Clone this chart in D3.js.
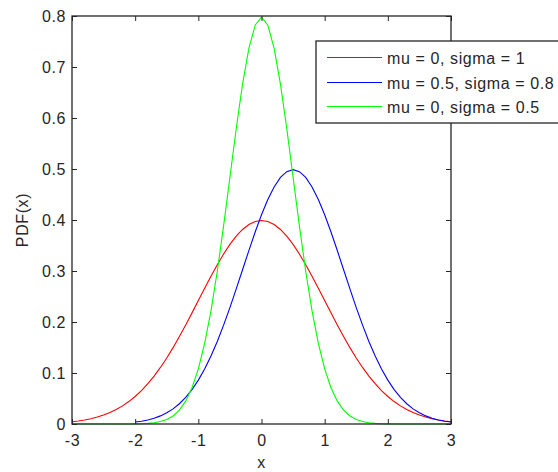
<!DOCTYPE html>
<html>
<head>
<meta charset="utf-8">
<script src="https://cdn.jsdelivr.net/npm/d3@7"></script>
<style>
body { margin: 0; background: #fff; }
svg text { font-family: "Liberation Sans", Arial, sans-serif; letter-spacing: 0.6px; }
</style>
</head>
<body>
<svg id="chart" width="558" height="472"></svg>
<script>
// values
var xTicks = [-3, -2, -1, 0, 1, 2, 3];
var yTicks = [0, 0.1, 0.2, 0.3, 0.4, 0.5, 0.6, 0.7, 0.8];
var seriesNames = ['mu = 0, sigma = 1', 'mu = 0.5, sigma = 0.8', 'mu = 0, sigma = 0.5'];
var seriesColors = ['#ff0000', '#0000ff', '#00ff00'];

// x = -3 .. 3 step 0.1
var redX = d3.range(-30, 31).map(d => d / 10);
var redY = [0.0044, 0.0060, 0.0079, 0.0104, 0.0136, 0.0175, 0.0224, 0.0283, 0.0355, 0.0440,
	0.0540, 0.0656, 0.0790, 0.0940, 0.1109, 0.1295, 0.1497, 0.1714, 0.1942, 0.2179,
	0.2420, 0.2661, 0.2897, 0.3123, 0.3332, 0.3521, 0.3683, 0.3814, 0.3910, 0.3970,
	0.3989,
	0.3970, 0.3910, 0.3814, 0.3683, 0.3521, 0.3332, 0.3123, 0.2897, 0.2661, 0.2420,
	0.2179, 0.1942, 0.1714, 0.1497, 0.1295, 0.1109, 0.0940, 0.0790, 0.0656, 0.0540,
	0.0440, 0.0355, 0.0283, 0.0224, 0.0175, 0.0136, 0.0104, 0.0079, 0.0060, 0.0044];

// x = -2 .. 3 step 0.1
var blueX = d3.range(-20, 31).map(d => d / 10);
var blueY = [0.0038, 0.0055, 0.0080, 0.0114, 0.0159, 0.0219, 0.0297, 0.0397, 0.0522, 0.0675,
	0.0860, 0.1079, 0.1332, 0.1619, 0.1938, 0.2283, 0.2649, 0.3025, 0.3401, 0.3764,
	0.4102, 0.4401, 0.4648, 0.4834, 0.4948,
	0.4987,
	0.4948, 0.4834, 0.4648, 0.4401, 0.4102, 0.3764, 0.3401, 0.3025, 0.2649, 0.2283,
	0.1938, 0.1619, 0.1332, 0.1079, 0.0860, 0.0675, 0.0522, 0.0397, 0.0297, 0.0219,
	0.0159, 0.0114, 0.0080, 0.0055, 0.0038];

// x = -3 .. 3 step 0.1
var greenX = d3.range(-30, 31).map(d => d / 10);
var greenY = [0, 0, 0, 0, 0, 0, 0, 0, 0, 0,
	0.0003, 0.0006, 0.0012, 0.0025, 0.0048, 0.0089, 0.0158, 0.0272, 0.0448, 0.0710,
	0.1080, 0.1579, 0.2218, 0.2995, 0.3884, 0.4839, 0.5794, 0.6664, 0.7366, 0.7821,
	0.7979,
	0.7821, 0.7366, 0.6664, 0.5794, 0.4839, 0.3884, 0.2995, 0.2218, 0.1579, 0.1080,
	0.0710, 0.0448, 0.0272, 0.0158, 0.0089, 0.0048, 0.0025, 0.0012, 0.0006, 0.0003,
	0, 0, 0, 0, 0, 0, 0, 0, 0, 0];

var svg = d3.select('#chart');
var padL = 72, padR = 451, padT = 16, padB = 424;
var axisColor = '#262626', textColor = '#262626', fontSize = 16;

var sx = d3.scaleLinear().domain([-3, 3]).range([padL, padR]);
var sy = d3.scaleLinear().domain([0, 0.8]).range([padB, padT]);

var line = d3.line()
	.x(d => sx(d[0]))
	.y(d => sy(d[1]));

var series = [
	d3.zip(redX, redY),
	d3.zip(blueX, blueY),
	d3.zip(greenX, greenY)
];

series.forEach(function(s, i) {
	svg.append('path').datum(s)
		.attr('d', line)
		.attr('fill', 'none')
		.attr('stroke', seriesColors[i])
		.attr('stroke-width', 1.1);
});

// axes, ticks pointing inward, mirrored on top and right
function styleAxis(g) {
	g.select('.domain').remove();
	g.selectAll('.tick line').attr('stroke', axisColor);
	g.selectAll('.tick text').attr('fill', textColor).attr('font-size', fontSize)
		.attr('font-family', '"Liberation Sans", Arial, sans-serif');
}

svg.append('g').attr('transform', 'translate(0,' + padB + ')')
	.call(d3.axisBottom(sx).tickValues(xTicks).tickSizeInner(-5).tickSizeOuter(0).tickPadding(11).tickFormat(d => String(d)))
	.call(styleAxis);
svg.append('g').attr('transform', 'translate(0,' + padT + ')')
	.call(d3.axisTop(sx).tickValues(xTicks).tickSizeInner(-5).tickSizeOuter(0).tickFormat(''))
	.call(styleAxis);
svg.append('g').attr('transform', 'translate(' + padL + ',0)')
	.call(d3.axisLeft(sy).tickValues(yTicks).tickSizeInner(-5).tickSizeOuter(0).tickPadding(6)
		.tickFormat(d => d === 0 ? '0' : d3.format('.1f')(d)))
	.call(styleAxis);
svg.append('g').attr('transform', 'translate(' + padR + ',0)')
	.call(d3.axisRight(sy).tickValues(yTicks).tickSizeInner(-5).tickSizeOuter(0).tickFormat(''))
	.call(styleAxis);

svg.append('rect')
	.attr('x', padL).attr('y', padT)
	.attr('width', padR - padL).attr('height', padB - padT)
	.attr('fill', 'none').attr('stroke', axisColor).attr('stroke-width', 1.3);

svg.append('text')
	.attr('x', sx(0)).attr('y', 468)
	.attr('text-anchor', 'middle').attr('font-size', fontSize).attr('fill', textColor)
	.text('x');
svg.append('text')
	.attr('transform', 'translate(28,' + ((padT + padB) / 2) + ') rotate(-90)')
	.attr('text-anchor', 'middle').attr('font-size', fontSize).attr('fill', textColor)
	.text('PDF(x)');

// legend
var legend = svg.append('g').attr('transform', 'translate(316,41)');
legend.append('rect')
	.attr('width', 260).attr('height', 82)
	.attr('fill', '#fff').attr('stroke', axisColor).attr('stroke-width', 1.3);
var rowY = [16.5, 41.5, 65.5];
seriesNames.forEach(function(name, i) {
	legend.append('line')
		.attr('x1', 11).attr('x2', 66).attr('y1', rowY[i]).attr('y2', rowY[i])
		.attr('stroke', seriesColors[i]).attr('stroke-width', 1);
	legend.append('text')
		.attr('x', 71).attr('y', rowY[i] + 6)
		.attr('font-size', fontSize).attr('fill', textColor)
		.text(name);
});
</script>
</body>
</html>
